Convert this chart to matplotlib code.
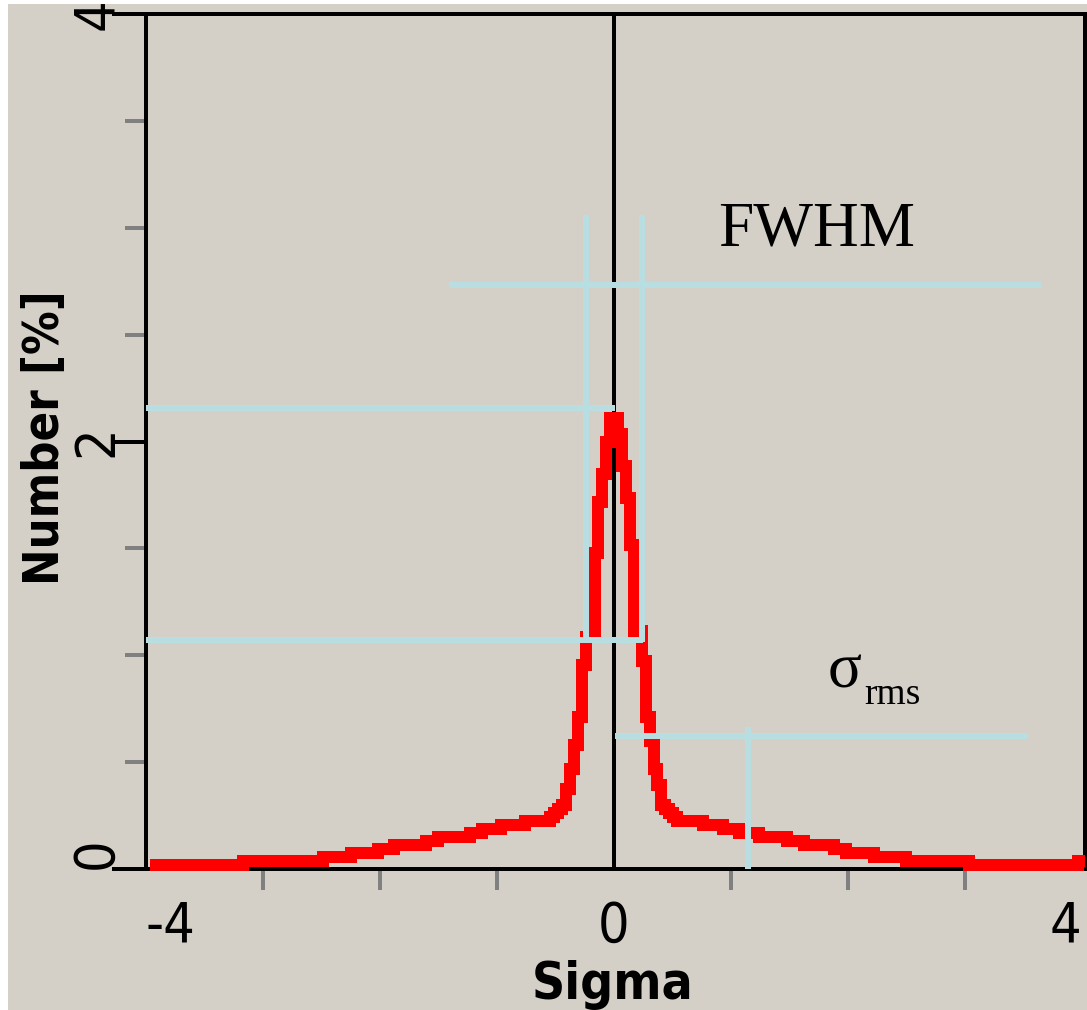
import matplotlib
matplotlib.use('Agg')
import matplotlib.pyplot as plt
from matplotlib.patches import Rectangle
from matplotlib import font_manager as fm

# ---- histogram (step) ----
bin_edges = [-3.968, -3.169, -2.489, -2.251, -2.014, -1.878, -1.606, -1.504, -1.232, -1.130,
             -0.960, -0.756, -0.544, -0.510, -0.476, -0.442, -0.408, -0.374, -0.340, -0.306,
             -0.272, -0.238, -0.161, -0.136, -0.102, -0.068, -0.034, 0.034, 0.068, 0.102,
             0.136, 0.170, 0.238, 0.272, 0.306, 0.340, 0.374, 0.408, 0.442, 0.476,
             0.510, 0.544, 0.765, 0.935, 1.071, 1.240, 1.478, 1.631, 1.886, 1.988,
             2.226, 2.498, 3.042, 3.968, 4.030]
bin_values = [0.019, 0.037, 0.056, 0.075, 0.094, 0.112, 0.131, 0.150, 0.168, 0.187,
              0.206, 0.225, 0.243, 0.262, 0.281, 0.299, 0.374, 0.468, 0.580, 0.711,
              0.954, 1.085, 1.478, 1.717, 1.848, 1.998, 2.110, 2.035, 1.885, 1.736,
              1.516, 1.113, 0.973, 0.711, 0.599, 0.468, 0.393, 0.299, 0.281, 0.262,
              0.243, 0.225, 0.206, 0.187, 0.168, 0.150, 0.131, 0.112, 0.094, 0.075,
              0.056, 0.037, 0.019, 0.037]

# ---- guide lines (FWHM / sigma_rms construction) ----
hline_y = [2.732, 2.157, 1.071, 0.622]
hline_x0 = [-1.410, -4.0, -4.0, 0.009]
hline_x1 = [3.653, 0.010, 0.250, 3.543]
vline_x = [-0.238, 0.238, 1.147]
vline_y0 = [1.060, 1.060, 0.0]
vline_y1 = [3.06, 3.06, 0.664]

# ---- axis ticks / labels ----
x_major = [-4, 0, 4]
x_major_labels = ['-4', '0', '4']
x_minor = [-3, -2, -1, 0, 1, 2, 3, 4]
y_major = [0, 2, 4]
y_major_labels = ['0', '2', '4']
y_minor = [0.5, 1.0, 1.5, 2.5, 3.0, 3.5]

BG = '#d4d0c8'
RED = '#ff0000'
BLUE = '#b8dee1'
GRAY = '#808080'
SERIF = ['Liberation Serif', 'DejaVu Serif']


def find_font(keys):
    files = [f.fname for f in fm.fontManager.ttflist]
    for k in keys:
        for fn in files:
            if k.lower() in fn.lower().replace('-', '').replace('_', ''):
                return fn
    return None


bold_file = find_font(['LiberationSansNarrowBold', 'DejaVuSansCondensedBold',
                       'RobotoCondensedBold', 'OpenSansCondensedBold'])
reg_file = find_font(['LiberationSansNarrowRegular', 'DejaVuSansCondensed.ttf',
                      'RobotoCondensedRegular', 'OpenSansCondensedRegular'])
if bold_file:
    bold_fp = fm.FontProperties(fname=bold_file)
    ylab_size, xlab_size = 35, 37
else:
    bold_fp = fm.FontProperties(family='DejaVu Sans', weight='bold')
    ylab_size, xlab_size = 31, 33
if reg_file:
    reg_fp = fm.FontProperties(fname=reg_file)
    tick_size = 40
else:
    reg_fp = fm.FontProperties(family='DejaVu Sans')
    tick_size = 36

W, H = 1087, 1010
fig = plt.figure(figsize=(W / 100, H / 100), dpi=100, facecolor='white')
fig.patches.append(Rectangle((8 / W, 0), 1, (H - 4) / H, transform=fig.transFigure,
                             facecolor=BG, edgecolor='none', zorder=-10))
ax = fig.add_axes([146 / W, (H - 869) / H, (1085 - 146) / W, (869 - 14) / H])
ax.set_zorder(1)
ax.set_facecolor('none')
ax.set_xlim(-4, 4.03)
ax.set_ylim(0, 4)

for s in ax.spines.values():
    s.set_linewidth(2.88)
    s.set_color('black')
    s.set_zorder(2.5)

ax.axvline(0, color='black', lw=2.88, zorder=2)

sp = ax.stairs(bin_values, bin_edges, baseline=None, color=RED, linewidth=8.64,
               zorder=3, clip_on=False)
sp.set_joinstyle('miter')

ax.hlines(hline_y, hline_x0, hline_x1, colors=BLUE, linewidth=4.32, zorder=4)
ax.vlines(vline_x, vline_y0, vline_y1, colors=BLUE, linewidth=4.32, zorder=4)

# ticks
ax.set_xticks(x_major, labels=x_major_labels)
ax.set_xticks(x_minor, minor=True)
ax.tick_params(axis='x', which='major', length=0, pad=22)
ax.tick_params(axis='x', which='minor', length=15, width=2.88, color=GRAY, direction='out')
xl = ax.get_xticklabels()
xl[0].set_ha('left')
xl[2].set_ha('right')

ax.set_yticks(y_major, labels=y_major_labels)
ax.set_yticks(y_minor, minor=True)
ax.tick_params(axis='y', which='major', length=24.5, width=2.88, color='black',
               pad=-8.6, labelrotation=90)
ax.tick_params(axis='y', which='minor', length=15, width=2.88, color=GRAY, direction='out')
yl = ax.get_yticklabels()
yl[0].set_va('bottom')
yl[1].set_va('center')
yl[2].set_va('center')
for lab in ax.get_xticklabels() + ax.get_yticklabels():
    lab.set_fontproperties(reg_fp)
    lab.set_fontsize(tick_size)

ax.set_xlabel('Sigma', fontproperties=bold_fp)
ax.xaxis.label.set_fontsize(xlab_size)
ax.xaxis.set_label_coords(0.497, -0.106)
ax.set_ylabel('Number [%]', fontproperties=bold_fp)
ax.yaxis.label.set_fontsize(ylab_size)
ax.yaxis.set_label_coords(-0.108, 0.505)
ax.yaxis.label.set_va('center')

ax.text(0.89, 2.919, 'FWHM', fontsize=45.5, family=SERIF, ha='left', va='baseline')
ax.text(1.827, 0.847, 'σ', fontsize=45.5, family=SERIF, ha='left', va='baseline')
ax.text(2.142, 0.772, 'rms', fontsize=27, family=SERIF, ha='left', va='baseline')

fig.savefig('out.png', dpi=100, facecolor='white')
